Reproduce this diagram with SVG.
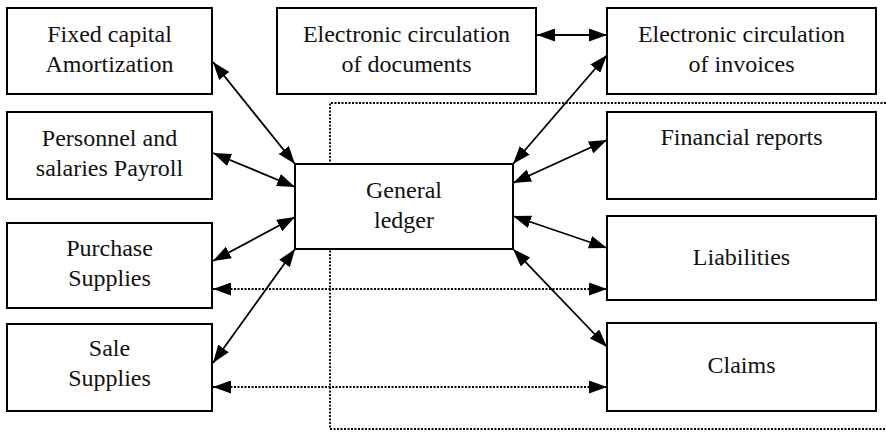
<svg xmlns="http://www.w3.org/2000/svg" width="886" height="433" viewBox="0 0 886 433" font-family="Liberation Serif, DejaVu Serif, serif">
<defs>
<style>
.box{fill:#fff;stroke:#000;stroke-width:2}
.t{font-size:24px;fill:#111;text-anchor:middle}
.c{fill:none;stroke:#000;stroke-width:1.8}
.d{fill:none;stroke:#000;stroke-width:1.8;stroke-dasharray:2 1.5}
</style>
<marker id="ah" viewBox="0 0 18 13" refX="18" refY="6.5" markerWidth="18" markerHeight="13" markerUnits="userSpaceOnUse" orient="auto-start-reverse">
<path d="M0,0 L18,6.5 L0,13 z" fill="#000"/>
</marker>
</defs>
<rect width="886" height="433" fill="#fff"/>
<path class="d" d="M886,103 L330,103 L330,429 L886,429"/>
<g id="fixed-capital"><rect class="box" x="7" y="8" width="205" height="86"/><text class="t" font-family="Liberation Serif" x="109.5" y="42">Fixed capital</text><text class="t" font-family="Liberation Serif" x="109.5" y="72">Amortization</text></g>
<g id="personnel"><rect class="box" x="7" y="112" width="205" height="87"/><text class="t" font-family="Liberation Serif" x="109.5" y="146">Personnel and</text><text class="t" font-family="Liberation Serif" x="109.5" y="176">salaries Payroll</text></g>
<g id="purchase"><rect class="box" x="7" y="223" width="205" height="85"/><text class="t" font-family="Liberation Serif" x="109.5" y="256">Purchase</text><text class="t" font-family="Liberation Serif" x="109.5" y="286">Supplies</text></g>
<g id="sale"><rect class="box" x="7" y="324" width="205" height="87"/><text class="t" font-family="Liberation Serif" x="109.5" y="356">Sale</text><text class="t" font-family="Liberation Serif" x="109.5" y="386">Supplies</text></g>
<g id="ec-documents"><rect class="box" x="277" y="8" width="259" height="86"/><text class="t" font-family="Liberation Serif" x="406.5" y="42">Electronic circulation</text><text class="t" font-family="Liberation Serif" x="406.5" y="72">of documents</text></g>
<g id="ec-invoices"><rect class="box" x="607" y="8" width="269" height="86"/><text class="t" font-family="Liberation Serif" x="741.5" y="42">Electronic circulation</text><text class="t" font-family="Liberation Serif" x="741.5" y="72">of invoices</text></g>
<g id="general-ledger"><rect class="box" x="295" y="164" width="218" height="85"/><text class="t" font-family="Liberation Serif" x="404" y="198">General</text><text class="t" font-family="Liberation Serif" x="404" y="228">ledger</text></g>
<g id="financial-reports"><rect class="box" x="607" y="112" width="269" height="87"/><text class="t" font-family="Liberation Serif" x="741.5" y="145">Financial reports</text></g>
<g id="liabilities"><rect class="box" x="607" y="216" width="269" height="84"/><text class="t" font-family="Liberation Serif" x="741.5" y="265">Liabilities</text></g>
<g id="claims"><rect class="box" x="607" y="323" width="269" height="88"/><text class="t" font-family="Liberation Serif" x="741.5" y="373">Claims</text></g>
<g id="connectors">
<line class="c" x1="213" y1="62" x2="295" y2="164" marker-start="url(#ah)" marker-end="url(#ah)"/>
<line class="c" x1="213" y1="153" x2="295" y2="187" marker-start="url(#ah)" marker-end="url(#ah)"/>
<line class="c" x1="213" y1="261" x2="295" y2="217" marker-start="url(#ah)" marker-end="url(#ah)"/>
<line class="c" x1="213" y1="363" x2="295" y2="249" marker-start="url(#ah)" marker-end="url(#ah)"/>
<line class="c" x1="537" y1="35" x2="607" y2="35" marker-start="url(#ah)" marker-end="url(#ah)"/>
<line class="c" x1="607" y1="55" x2="513" y2="164" marker-start="url(#ah)" marker-end="url(#ah)"/>
<line class="c" x1="607" y1="140" x2="513" y2="183" marker-start="url(#ah)" marker-end="url(#ah)"/>
<line class="c" x1="513" y1="216" x2="607" y2="248" marker-start="url(#ah)" marker-end="url(#ah)"/>
<line class="c" x1="513" y1="249" x2="607" y2="347" marker-start="url(#ah)" marker-end="url(#ah)"/>
<line class="d" x1="213" y1="289" x2="607" y2="289" marker-start="url(#ah)" marker-end="url(#ah)"/>
<line class="d" x1="213" y1="387" x2="607" y2="387" marker-start="url(#ah)" marker-end="url(#ah)"/>
</g>
</svg>
